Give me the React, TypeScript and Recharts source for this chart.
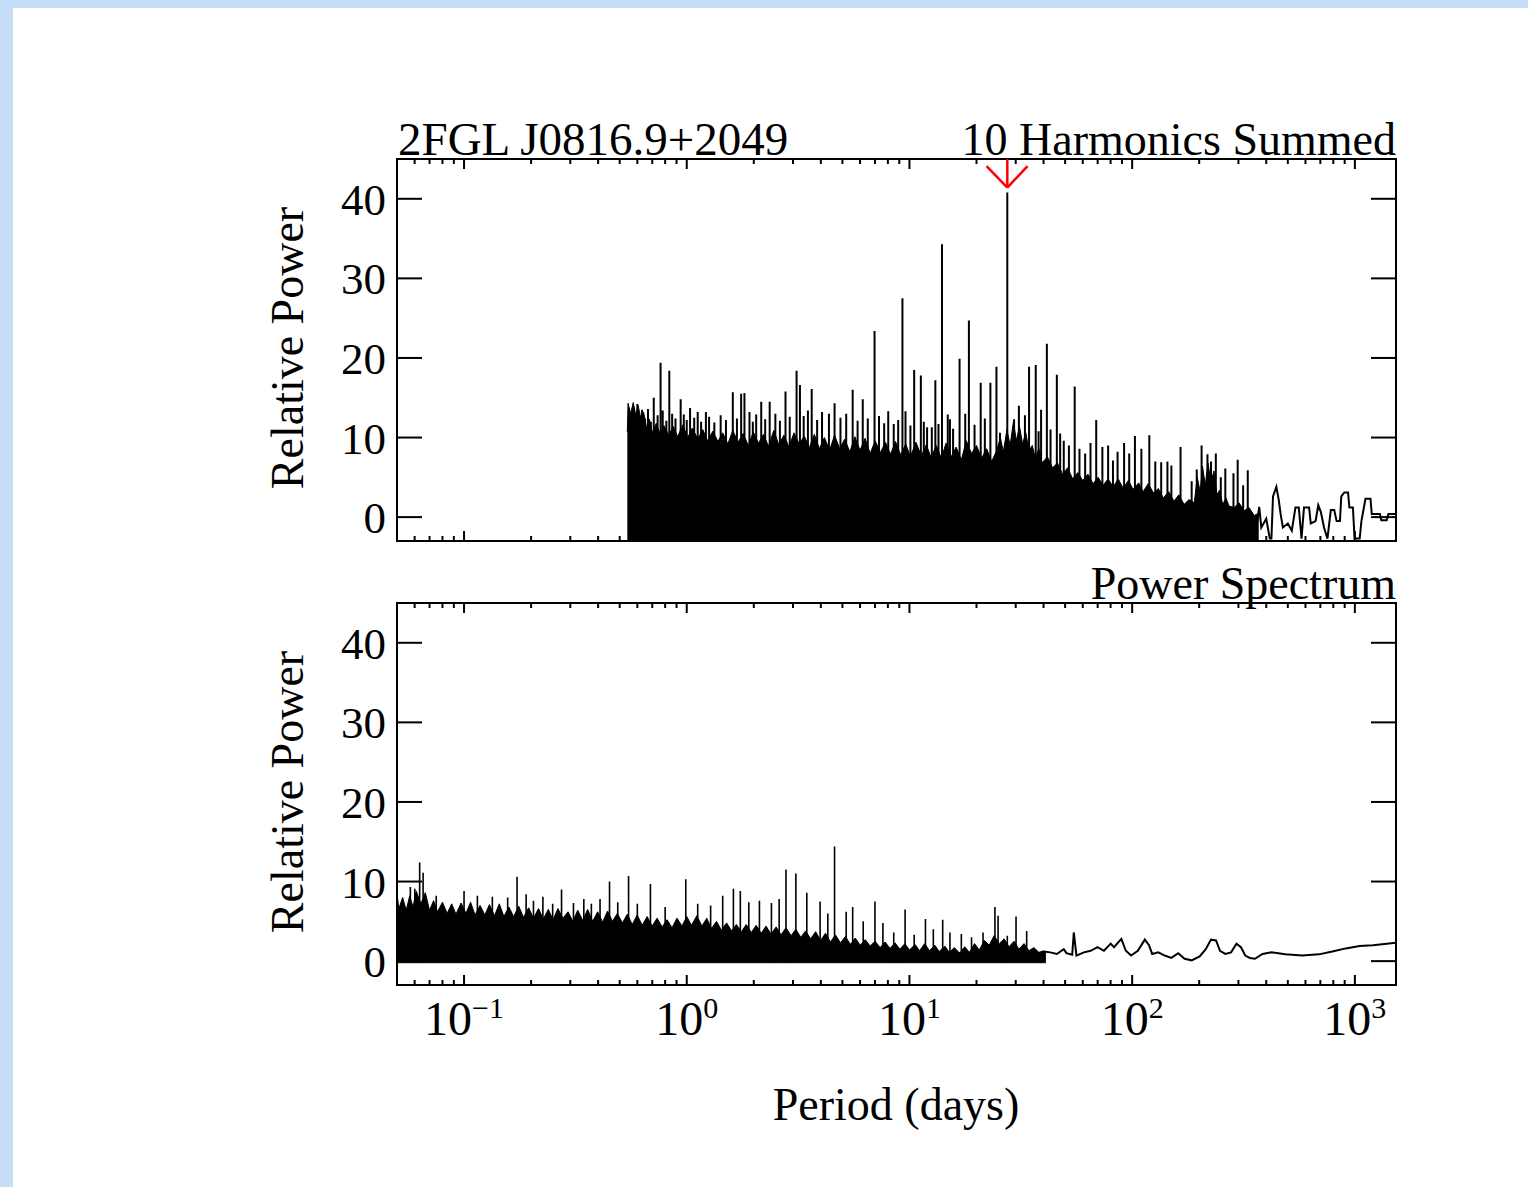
import React from "react";
import {
  ComposedChart,
  Area,
  Line,
  XAxis,
  YAxis,
  ReferenceArea,
  ReferenceLine,
} from "recharts";

// ---- data ----

const periodDomain: [number, number] = [0.05, 1530];
const powerDomain: [number, number] = [-3, 45];

const periodTicks = [
  0.06, 0.07, 0.08, 0.09, 0.1, 0.2, 0.3, 0.4, 0.5, 0.6, 0.7, 0.8, 0.9, 1, 2, 3,
  4, 5, 6, 7, 8, 9, 10, 20, 30, 40, 50, 60, 70, 80, 90, 100, 200, 300, 400, 500,
  600, 700, 800, 900, 1000,
];
const decadeTicks = [0.1, 1, 10, 100, 1000];
const decadeExponents = ["\u22121", "0", "1", "2", "3"];
const powerTicks = [0, 10, 20, 30, 40];

// top panel: dense part of the summed-harmonics spectrum, [period, high]
const topFloor = -3;
const topEnvelope: [number, number][] = [
  [0.541, 10.7], [0.545, 14.3], [0.56, 13.0], [0.575, 14.4],
  [0.59, 12.8], [0.605, 14.0], [0.62, 12.6], [0.64, 13.2],
  [0.66, 11.2], [0.68, 12.3], [0.7, 10.6], [0.73, 11.8],
  [0.76, 10.4], [0.79, 11.5], [0.83, 10.3], [0.87, 11.4],
  [0.91, 10.1], [0.96, 11.6], [1.01, 10.0], [1.06, 11.2],
  [1.12, 9.8], [1.18, 11.0], [1.24, 9.6], [1.31, 10.8],
  [1.38, 9.5], [1.45, 10.6], [1.53, 9.2], [1.61, 10.9],
  [1.7, 9.4], [1.79, 10.5], [1.89, 9.0], [1.99, 10.7],
  [2.1, 9.3], [2.21, 10.4], [2.33, 8.9], [2.46, 10.9],
  [2.59, 9.1], [2.73, 10.3], [2.88, 8.8], [3.03, 10.6],
  [3.2, 9.2], [3.37, 10.2], [3.55, 8.7], [3.74, 10.4],
  [3.94, 8.6], [4.15, 10.0], [4.38, 8.4], [4.61, 10.3],
  [4.86, 8.6], [5.12, 9.8], [5.4, 8.2], [5.69, 10.1],
  [6.0, 8.4], [6.32, 9.9], [6.66, 8.0], [7.02, 9.6],
  [7.4, 8.1], [7.8, 9.4], [8.22, 7.9], [8.66, 9.5],
  [9.13, 7.8], [9.62, 9.2], [10.1, 7.6], [10.7, 9.4],
  [11.3, 7.7], [11.9, 9.1], [12.5, 7.5], [13.2, 9.0],
  [13.9, 7.4], [14.6, 9.3], [15.4, 7.6], [16.2, 8.8],
  [17.1, 7.2], [18.0, 9.6], [19.0, 8.0], [20.0, 9.0],
  [21.1, 7.4], [22.2, 8.6], [23.4, 7.0], [24.7, 8.4],
  [25.6, 10.0], [26.4, 8.2], [27.4, 11.0], [28.3, 9.0],
  [29.3, 12.0], [30.2, 9.6], [31.2, 11.4], [32.2, 9.2],
  [33.3, 10.6], [34.4, 8.4], [35.6, 9.0], [36.8, 7.4],
  [38.1, 8.6], [39.5, 6.8], [41.6, 7.6], [43.9, 6.2],
  [46.2, 6.8], [48.7, 5.4], [51.3, 6.2], [54.1, 4.8],
  [57.0, 5.6], [60.0, 4.6], [63.3, 5.4], [66.7, 4.2],
  [70.3, 5.0], [74.0, 4.0], [78.0, 4.8], [82.2, 3.8],
  [86.6, 4.8], [91.2, 3.6], [96.1, 4.6], [101, 3.5],
  [107, 4.3], [112, 3.2], [118, 4.2], [125, 3.0],
  [131, 3.6], [138, 2.4], [146, 3.2], [154, 2.0],
  [162, 2.8], [171, 1.6], [180, 2.2], [190, 1.8],
  [196, 5.0], [202, 3.2], [207, 6.4], [213, 4.0],
  [219, 6.8], [226, 4.4], [233, 5.8], [240, 2.8],
  [247, 3.4], [255, 1.6], [264, 2.4], [272, 1.4],
  [287, 1.2], [302, 1.8], [318, 0.8], [335, 1.2],
  [353, 0.2], [370, 0.5],
];

// top panel: single lines standing out of the dense part, [period, power]
const topSpikes: [number, number][] = [
  [0.58, 13.8], [0.6, 14.2], [0.63, 13.5], [0.65, 12.4], [0.67, 13.6],
  [0.69, 12.0], [0.711, 15.0], [0.74, 12.8], [0.763, 19.4], [0.78, 13.4],
  [0.81, 12.1], [0.835, 18.4], [0.86, 13.0], [0.89, 12.4], [0.939, 14.8],
  [0.97, 12.9], [1.0, 12.2], [1.035, 13.7], [1.08, 12.5], [1.12, 13.2],
  [1.16, 12.0], [1.219, 13.2], [1.26, 12.6], [1.33, 11.9], [1.42, 12.8],
  [1.5, 12.2], [1.61, 15.7], [1.68, 12.4], [1.755, 15.5], [1.816, 15.6],
  [1.913, 13.2], [1.98, 12.0], [2.05, 12.9], [2.16, 14.5], [2.25, 12.3],
  [2.357, 14.5], [2.5, 13.0], [2.62, 12.1], [2.776, 15.8], [2.9, 12.6],
  [3.113, 18.4], [3.223, 16.6], [3.35, 12.7], [3.5, 13.4], [3.64, 16.1],
  [3.85, 12.2], [4.05, 13.2], [4.35, 13.0], [4.61, 14.3], [4.9, 12.5],
  [5.2, 13.0], [5.56, 16.0], [5.85, 12.1], [6.17, 14.8], [6.5, 12.4],
  [6.97, 23.4], [7.3, 12.7], [7.7, 11.8], [8.03, 13.3], [8.5, 11.7],
  [8.9, 12.2], [9.3, 27.5], [9.6, 13.3], [10.1, 11.5], [10.5, 18.5],
  [11.25, 17.8], [11.6, 12.0], [12.0, 11.3], [12.6, 11.3], [13.07, 17.2],
  [13.5, 11.7], [14.0, 34.3], [14.86, 12.9], [15.2, 12.3], [15.7, 11.1],
  [16.79, 19.9], [17.8, 13.0], [18.49, 24.7], [19.6, 11.6], [20.89, 16.9],
  [21.8, 12.4], [23.09, 16.9], [24.58, 18.9], [25.5, 10.6], [27.5, 40.8],
  [29.5, 12.3], [31, 14.0], [33, 12.8], [34.44, 18.9], [36.9, 19.1],
  [38.0, 10.8], [39, 13.5], [41.4, 21.8], [43, 11.0], [45.9, 17.9],
  [47.5, 10.5], [49.3, 9.6], [52, 9.0], [55.2, 16.4], [58, 8.6],
  [61.5, 8.0], [65, 9.3], [68.96, 12.2], [73.5, 8.8], [78, 9.0],
  [82.0, 7.1], [86, 8.2], [92.0, 9.3], [97, 8.0], [102.9, 10.2],
  [110, 8.6], [119.4, 10.3], [127, 7.0], [135, 6.9], [144, 7.0],
  [150, 6.5], [164.9, 8.8], [185, 4.5], [195, 6.0], [205, 9.0],
  [217.8, 7.9], [226, 7.0], [237.5, 8.0], [250, 5.0], [262, 6.1],
  [285, 5.5], [297.7, 7.2], [315, 4.0], [330.4, 5.9],
];

// top panel: sparse tail at long periods, [period, power]
const topTail: [number, number][] = [
  [356, -2.7], [372, 1.3], [380, -1.3], [400, -0.2], [415, -2.7], [422, -2.7],
  [429, 2.6], [444, 3.8], [455, 2.2], [464, 0.4], [475, -1.3], [500, -0.8],
  [521, -1.7], [541, 1.2], [560, 1.2], [576, -2.7], [591, 1.2], [623, 1.2],
  [634, -0.8], [666, -0.5], [685, 1.5], [704, 0.6], [727, -1.3], [753, -2.7],
  [780, 0.9], [808, 0.9], [828, -0.5], [857, -0.5], [869, 2.6], [897, 3.1],
  [932, 3.1], [945, 1.2], [980, 1.2], [997, -2.7], [1051, -2.7], [1070, -0.5],
  [1116, 2.3], [1175, 2.3], [1191, 0.4], [1295, 0.4], [1314, -0.4],
  [1389, -0.4], [1414, 0.4], [1530, 0.4],
];

// marked period (red arrow)
const markedPeriod = 27.5;
const markedTip = 41.4;
const markedArms: [number, number] = [22.2, 33.9];
const markedArmPower = 44.1;

// bottom panel: dense part of the plain power spectrum, [period, high]
const bottomFloor = -0.2;
const bottomEnvelope: [number, number][] = [
  [0.05, 8.4], [0.051, 6.6], [0.053, 8.0], [0.055, 6.4], [0.057, 8.2],
  [0.059, 6.8], [0.061, 8.8], [0.064, 7.2], [0.067, 8.6], [0.07, 6.4],
  [0.073, 7.6], [0.076, 6.2], [0.08, 7.4], [0.084, 6.0], [0.088, 7.2],
  [0.092, 5.9], [0.097, 7.3], [0.102, 6.0], [0.107, 7.4], [0.112, 5.8],
  [0.118, 7.0], [0.124, 5.8], [0.13, 7.1], [0.137, 5.7], [0.144, 7.2],
  [0.151, 5.6], [0.159, 6.8], [0.167, 5.6], [0.176, 6.9], [0.185, 5.5],
  [0.195, 6.7], [0.205, 5.4], [0.216, 6.6], [0.227, 5.3], [0.239, 6.5],
  [0.251, 5.2], [0.264, 6.6], [0.278, 5.4], [0.293, 6.2], [0.308, 5.0],
  [0.324, 6.4], [0.341, 5.1], [0.359, 6.5], [0.378, 5.0], [0.398, 6.2],
  [0.419, 4.9], [0.441, 6.3], [0.464, 5.0], [0.488, 6.0], [0.514, 4.8],
  [0.541, 5.9], [0.569, 4.6], [0.599, 5.8], [0.631, 4.5], [0.664, 5.6],
  [0.699, 4.4], [0.736, 5.4], [0.775, 4.3], [0.816, 5.2], [0.859, 4.2],
  [0.904, 5.4], [0.952, 4.4], [1.0, 5.6], [1.05, 4.5], [1.11, 5.7],
  [1.17, 4.4], [1.23, 5.4], [1.29, 4.1], [1.36, 5.0], [1.43, 3.9],
  [1.51, 4.8], [1.59, 3.8], [1.67, 4.6], [1.76, 3.7], [1.85, 4.6],
  [1.95, 3.6], [2.05, 4.5], [2.16, 3.5], [2.27, 4.4], [2.39, 3.4],
  [2.52, 4.3], [2.65, 3.3], [2.79, 4.2], [2.94, 3.2], [3.09, 4.0],
  [3.25, 3.0], [3.42, 3.8], [3.6, 2.8], [3.79, 3.7], [3.99, 2.6],
  [4.2, 3.5], [4.42, 2.4], [4.65, 3.3], [4.9, 2.3], [5.16, 3.1],
  [5.43, 2.1], [5.71, 2.9], [6.01, 2.0], [6.33, 2.7], [6.66, 1.9],
  [7.01, 2.5], [7.38, 1.7], [7.77, 2.4], [8.18, 1.6], [8.61, 2.3],
  [9.06, 1.5], [9.54, 2.2], [10.0, 1.4], [10.6, 2.1], [11.1, 1.3],
  [11.7, 2.2], [12.3, 1.3], [13.0, 2.0], [13.6, 1.2], [14.4, 1.9],
  [15.1, 1.1], [15.9, 1.7], [16.8, 1.0], [17.7, 1.8], [18.6, 1.1],
  [19.6, 2.2], [20.6, 1.4], [21.7, 2.6], [22.8, 2.0], [24.0, 3.2],
  [25.3, 2.2], [26.6, 2.8], [28.0, 1.8], [29.5, 2.5], [31.0, 1.5],
  [32.7, 2.2], [34.4, 1.3], [36.2, 1.7], [38.1, 1.1], [40.1, 1.3],
  [41.0, 0.9],
];

const bottomSpikes: [number, number][] = [
  [0.0574, 9.3], [0.0601, 9.1], [0.0632, 12.4], [0.0655, 11.1], [0.075, 8.2],
  [0.1, 8.8], [0.1148, 8.2], [0.134, 8.1], [0.157, 8.0], [0.173, 10.6],
  [0.19, 8.4], [0.205, 7.6], [0.226, 8.1], [0.25, 7.2], [0.274, 9.0],
  [0.31, 7.3], [0.345, 7.8], [0.373, 7.2], [0.408, 7.8], [0.45, 10.0],
  [0.49, 7.4], [0.548, 10.7], [0.6, 7.2], [0.687, 9.7], [0.8, 6.8],
  [0.99, 10.3], [1.12, 7.2], [1.28, 7.0], [1.45, 8.2], [1.62, 9.1],
  [1.74, 8.8], [1.9, 7.4], [2.12, 7.6], [2.4, 7.3], [2.6, 7.8],
  [2.79, 11.5], [3.09, 11.0], [3.46, 8.6], [3.97, 7.5], [4.3, 6.0],
  [4.61, 14.4], [5.2, 6.2], [5.56, 6.8], [6.2, 5.0], [7.0, 7.5],
  [7.6, 4.8], [8.5, 3.6], [9.56, 6.5], [10.5, 3.3], [11.8, 5.3],
  [12.8, 4.0], [14.1, 5.2], [15.2, 3.6], [17.1, 3.4], [19.0, 3.0],
  [21.4, 3.6], [24.2, 6.8], [25.0, 5.7], [27.5, 3.2], [30.1, 5.6],
  [33.6, 3.8],
];

const bottomTail: [number, number][] = [
  [40.0, 1.2], [42.9, 1.1], [45.9, 0.9], [49.3, 1.5], [50.7, 1.0],
  [53.8, 0.8], [54.7, 3.6], [56.2, 0.7], [60.7, 1.1], [65.1, 1.3],
  [69.9, 1.75], [74.7, 1.3], [80.1, 2.2], [82.9, 1.75], [89.4, 2.8],
  [93.7, 1.3], [98.9, 0.7], [106, 1.3], [114, 2.7], [119, 2.0],
  [123, 0.9], [131, 1.1], [140, 0.7], [150, 0.4], [161, 1.0],
  [172, 0.3], [185, 0.1], [201, 0.6], [214, 1.5], [226, 2.7],
  [238, 2.6], [248, 1.3], [262, 0.9], [278, 1.1], [294, 2.2],
  [308, 1.75], [322, 0.7], [338, 0.4], [356, 0.3], [385, 0.9],
  [422, 1.1], [487, 0.85], [580, 0.7], [690, 0.85], [792, 1.2],
  [910, 1.6], [1050, 1.9], [1205, 2.0], [1530, 2.3],
];

// ---- layout ----

const PAGE_W = 1528;
const PAGE_H = 1187;
const PLOT_LEFT = 397;
const PLOT_RIGHT = 1396;
const TOP_PANEL = { top: 159, bottom: 541 };
const BOTTOM_PANEL = { top: 603, bottom: 985 };
const SERIF = '"Liberation Serif", "Times New Roman", Times, serif';

const envelopeRows = (rows: [number, number][], floor: number) =>
  rows.map(([period, hi]) => ({ period, range: [floor, hi] }));

const spikeRows = (spikes: [number, number][], base: number) =>
  spikes.flatMap(([period, power]) => [
    { period, power: base },
    { period, power },
    { period, power: base },
  ]);

const lineRows = (pts: [number, number][]) =>
  pts.map(([period, power]) => ({ period, power }));

const isDecade = (v: number) =>
  Math.abs(Math.log10(v) - Math.round(Math.log10(v))) < 1e-6;

function makePeriodTick(top: number, bottom: number, showLabels: boolean) {
  return (props: any) => {
    const { x, payload } = props;
    const major = isDecade(payload.value);
    const len = major ? 10 : 5;
    const idx = decadeTicks.findIndex(
      (d) => Math.abs(d - payload.value) < 1e-9
    );
    return (
      <g>
        <line x1={x} x2={x} y1={bottom} y2={bottom - len} stroke="#000" strokeWidth={2} />
        <line x1={x} x2={x} y1={top} y2={top + len} stroke="#000" strokeWidth={2} />
        {showLabels && idx >= 0 && (
          <text
            x={x}
            y={1035}
            textAnchor="middle"
            fontFamily={SERIF}
            fontSize={48}
            fill="#000"
          >
            10
            <tspan dy={-17} fontSize={30}>
              {decadeExponents[idx]}
            </tspan>
          </text>
        )}
      </g>
    );
  };
}

function PowerTick(props: any) {
  const { y, payload } = props;
  return (
    <g>
      <line x1={PLOT_LEFT} x2={PLOT_LEFT + 25} y1={y} y2={y} stroke="#000" strokeWidth={2} />
      <line x1={PLOT_RIGHT - 25} x2={PLOT_RIGHT} y1={y} y2={y} stroke="#000" strokeWidth={2} />
      <text
        x={386}
        y={y + 16}
        textAnchor="end"
        fontFamily={SERIF}
        fontSize={45}
        fill="#000"
      >
        {payload.value}
      </text>
    </g>
  );
}

function Panel({
  top,
  bottom,
  showLabels,
  children,
}: {
  top: number;
  bottom: number;
  showLabels: boolean;
  children: React.ReactNode;
}) {
  return (
    <div style={{ position: "absolute", left: 0, top: 0 }}>
      <ComposedChart
        width={PAGE_W}
        height={PAGE_H}
        margin={{
          top,
          left: PLOT_LEFT - 1,
          right: PAGE_W - PLOT_RIGHT,
          bottom: PAGE_H - bottom - 1,
        }}
      >
        <XAxis
          type="number"
          dataKey="period"
          scale="log"
          domain={periodDomain}
          ticks={periodTicks}
          interval={0}
          allowDataOverflow
          axisLine={false}
          tickLine={false}
          height={1}
          tick={makePeriodTick(top, bottom, showLabels)}
        />
        <YAxis
          type="number"
          domain={powerDomain}
          ticks={powerTicks}
          interval={0}
          allowDataOverflow
          axisLine={false}
          tickLine={false}
          width={1}
          tick={PowerTick}
        />
        {children}
        <ReferenceArea
          x1={periodDomain[0]}
          x2={periodDomain[1]}
          y1={powerDomain[0]}
          y2={powerDomain[1]}
          fill="none"
          stroke="#000"
          strokeWidth={2}
          ifOverflow="visible"
        />
      </ComposedChart>
    </div>
  );
}

export default function App() {
  const topArea = envelopeRows(topEnvelope, topFloor);
  const topSpikeRows = spikeRows(topSpikes, 0);
  const topTailRows = lineRows(topTail);
  const bottomArea = envelopeRows(bottomEnvelope, bottomFloor);
  const bottomSpikeRows = spikeRows(bottomSpikes, 1);
  const bottomTailRows = lineRows(bottomTail);

  return (
    <div
      style={{
        position: "absolute",
        left: 0,
        top: 0,
        width: PAGE_W,
        height: PAGE_H,
        background: "#c6ddf8",
        overflow: "hidden",
      }}
    >
      <div
        style={{
          position: "absolute",
          left: 13,
          top: 8,
          right: 0,
          bottom: 0,
          background: "#fff",
        }}
      />

      <Panel top={TOP_PANEL.top} bottom={TOP_PANEL.bottom} showLabels={false}>
        <Area
          data={topArea}
          dataKey="range"
          type="linear"
          fill="#000"
          fillOpacity={1}
          stroke="#000"
          strokeWidth={1}
          isAnimationActive={false}
        />
        <Line
          data={topSpikeRows}
          dataKey="power"
          type="linear"
          stroke="#000"
          strokeWidth={2}
          dot={false}
          isAnimationActive={false}
        />
        <Line
          data={topTailRows}
          dataKey="power"
          type="linear"
          stroke="#000"
          strokeWidth={2}
          dot={false}
          isAnimationActive={false}
        />
        <ReferenceLine
          segment={[
            { x: markedPeriod, y: powerDomain[1] },
            { x: markedPeriod, y: markedTip },
          ]}
          stroke="#ff0000"
          strokeWidth={2.5}
          ifOverflow="visible"
        />
        <ReferenceLine
          segment={[
            { x: markedArms[0], y: markedArmPower },
            { x: markedPeriod, y: markedTip },
          ]}
          stroke="#ff0000"
          strokeWidth={2.5}
          ifOverflow="visible"
        />
        <ReferenceLine
          segment={[
            { x: markedArms[1], y: markedArmPower },
            { x: markedPeriod, y: markedTip },
          ]}
          stroke="#ff0000"
          strokeWidth={2.5}
          ifOverflow="visible"
        />
      </Panel>

      <Panel top={BOTTOM_PANEL.top} bottom={BOTTOM_PANEL.bottom} showLabels>
        <Area
          data={bottomArea}
          dataKey="range"
          type="linear"
          fill="#000"
          fillOpacity={1}
          stroke="#000"
          strokeWidth={1}
          isAnimationActive={false}
        />
        <Line
          data={bottomSpikeRows}
          dataKey="power"
          type="linear"
          stroke="#000"
          strokeWidth={1.6}
          dot={false}
          isAnimationActive={false}
        />
        <Line
          data={bottomTailRows}
          dataKey="power"
          type="linear"
          stroke="#000"
          strokeWidth={2}
          dot={false}
          isAnimationActive={false}
        />
      </Panel>

      <svg
        width={PAGE_W}
        height={PAGE_H}
        style={{ position: "absolute", left: 0, top: 0, pointerEvents: "none" }}
        fontFamily={SERIF}
        fill="#000"
      >
        <text x={398} y={155} fontSize={47}>
          2FGL J0816.9+2049
        </text>
        <text x={PLOT_RIGHT} y={155} fontSize={46} textAnchor="end">
          10 Harmonics Summed
        </text>
        <text x={PLOT_RIGHT} y={599} fontSize={46} textAnchor="end">
          Power Spectrum
        </text>
        <text
          transform="translate(303,348) rotate(-90)"
          fontSize={46}
          textAnchor="middle"
        >
          Relative Power
        </text>
        <text
          transform="translate(303,792) rotate(-90)"
          fontSize={46}
          textAnchor="middle"
        >
          Relative Power
        </text>
        <text x={896} y={1120} fontSize={46} textAnchor="middle">
          Period (days)
        </text>
      </svg>
    </div>
  );
}
